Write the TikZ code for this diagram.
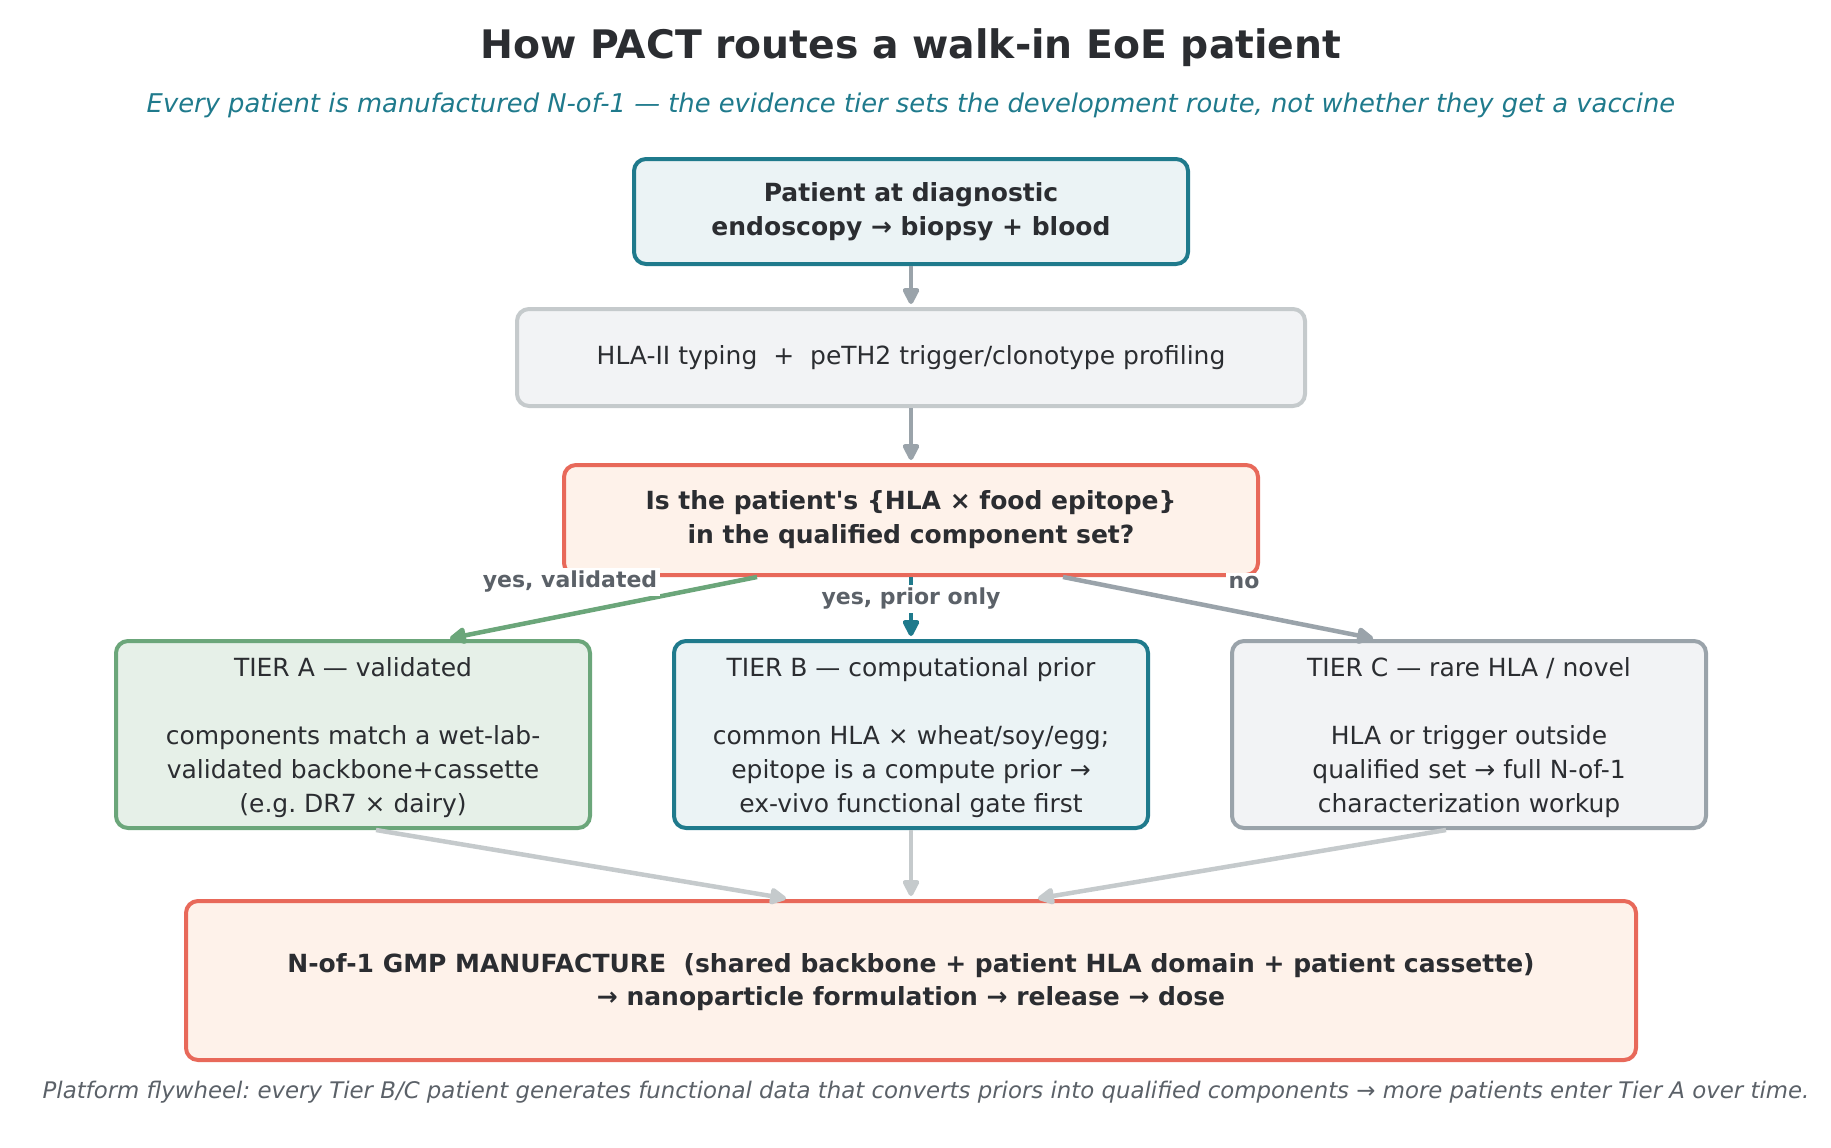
\documentclass[tikz,border=0pt]{standalone}
\usepackage{fontspec}
\setmainfont{DejaVu Sans}
\usetikzlibrary{arrows.meta}
\frenchspacing
\definecolor{encre}{HTML}{2B2D31}
\definecolor{sarcelle}{HTML}{1F7A8C}
\definecolor{sarcelleclair}{HTML}{EBF3F5}
\definecolor{corail}{HTML}{E8695A}
\definecolor{corailclair}{HTML}{FEF2EA}
\definecolor{vert}{HTML}{6BA67A}
\definecolor{vertclair}{HTML}{E6F0E8}
\definecolor{gris}{HTML}{9AA3AA}
\definecolor{grisclair}{HTML}{C5CACC}
\definecolor{fond}{HTML}{F2F3F5}
\definecolor{ardoise}{HTML}{5B6168}
\newcommand{\corps}{\fontsize{25}{34}\selectfont}
\newcommand{\petit}{\fontsize{22}{26}\selectfont\bfseries}
\newcommand{\haut}{\rule{0pt}{26pt}}
\newcommand{\fleche}[3]{\draw[lien,#1] (#2) -- (#3);}

\begin{document}
\begin{tikzpicture}[x=1pt,y=-1pt,
	boite/.style={draw,line width=4pt,rounded corners=12pt,align=center,inner sep=0pt,text=encre,font=\corps},
	lien/.style={line width=4.5pt,-{Triangle[length=19pt,width=18pt,round]},shorten >=3pt},
	etiq/.style={fill=white,inner sep=3pt,text=ardoise,font=\petit}]
	\useasboundingbox (0,0) rectangle (1831,1148);
	\node[text=encre,font=\fontsize{39.3}{46}\selectfont\bfseries] (titre) at (911,48) {How PACT routes a walk-in EoE patient};
	\node[text=sarcelle,font=\fontsize{25.8}{32}\selectfont\itshape] (soustitre) at (911,105) {Every patient is manufactured N-of-1 — the evidence tier sets the development route, not whether they get a vaccine};
	\node[boite,draw=sarcelle,fill=sarcelleclair,minimum width=554pt,minimum height=105pt,font=\corps\bfseries] (patient) at (911,211.5) {Patient at diagnostic\\endoscopy → biopsy + blood};
	\node[boite,draw=grisclair,fill=fond,minimum width=788pt,minimum height=97pt] (typage) at (911,357.5) {HLA-II typing\ \ +\ \ peTH2 trigger/clonotype profiling};
	\node[boite,draw=corail,fill=corailclair,minimum width=694pt,minimum height=110pt,font=\corps\bfseries] (question) at (911,520) {Is the patient\textquotesingle s \{HLA × food epitope\}\\in the qualified component set?};
	\node[boite,draw=vert,fill=vertclair,minimum width=474pt,minimum height=187pt] (tierA) at (353,734.5) {\haut TIER A — validated\\ \\components match a wet-lab-\\validated backbone+cassette\\(e.g. DR7 × dairy)};
	\node[boite,draw=sarcelle,fill=sarcelleclair,minimum width=474pt,minimum height=187pt] (tierB) at (911,734.5) {\haut TIER B — computational prior\\ \\common HLA × wheat/soy/egg;\\epitope is a compute prior →\\ex-vivo functional gate first};
	\node[boite,draw=gris,fill=fond,minimum width=474pt,minimum height=187pt] (tierC) at (1469,734.5) {\haut TIER C — rare HLA / novel\\ \\HLA or trigger outside\\qualified set → full N-of-1\\characterization workup};
	\node[boite,draw=corail,fill=corailclair,minimum width=1450pt,minimum height=159pt,font=\fontsize{25}{33}\selectfont\bfseries] (gmp) at (911,980.5) {\rule{0pt}{23pt}N-of-1 GMP MANUFACTURE\ \ (shared backbone + patient HLA domain + patient cassette)\\→ nanoparticle formulation → release → dose};
	\fleche{gris}{patient.south}{typage.north}
	\fleche{gris}{typage.south}{question.north}
	\fleche{vert}{[xshift=-154pt]question.south}{[xshift=94pt]tierA.north}
	\fleche{sarcelle}{question.south}{tierB.north}
	\fleche{gris}{[xshift=152pt]question.south}{[xshift=-93pt]tierC.north}
	\fleche{grisclair}{[xshift=23pt]tierA.south}{[xshift=-122pt]gmp.north}
	\fleche{grisclair}{tierB.south}{gmp.north}
	\fleche{grisclair}{[xshift=-23pt]tierC.south}{[xshift=124pt]gmp.north}
	\node[etiq] (oui) at (570,582) {yes, validated};
	\node[etiq] (prior) at (911,599) {yes, prior only};
	\node[etiq] (non) at (1244,582) {no};
	\node[text=ardoise,font=\fontsize{22.85}{28}\selectfont\itshape] (volant) at (926,1092) {Platform flywheel: every Tier B/C patient generates functional data that converts priors into qualified components → more patients enter Tier A over time.};
\end{tikzpicture}
\end{document}
